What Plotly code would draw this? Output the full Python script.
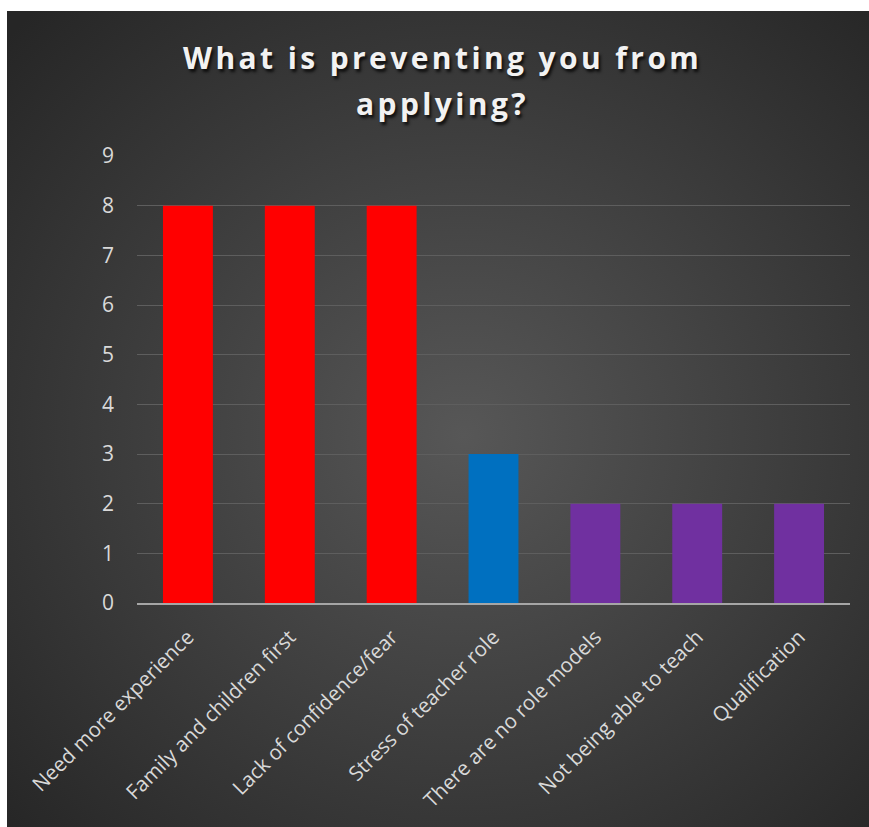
import plotly.graph_objects as go
import urllib.parse

categories = ["Need more experience", "Family and children first", "Lack of confidence/fear",
              "Stress of teacher role", "There are no role models", "Not being able to teach",
              "Qualification"]
values = [8, 8, 8, 3, 2, 2, 2]
bar_colors = ["#FF0000", "#FF0000", "#FF0000", "#0070C0", "#7030A0", "#7030A0", "#7030A0"]
y_ticks = [0, 1, 2, 3, 4, 5, 6, 7, 8, 9]
title_lines = ["What is preventing you from", "applying?"]

W, H = 869, 827
L, R, T, B = 137, 19, 156, 224
pw, ph = W - L - R, H - T - B

svg = ('<svg xmlns="http://www.w3.org/2000/svg" width="862" height="816" viewBox="0 0 862 816" preserveAspectRatio="none">'
       '<defs><radialGradient id="g" cx="0.53" cy="0.52" r="0.72">'
       '<stop offset="0" stop-color="#575757"/><stop offset="1" stop-color="#262626"/>'
       '</radialGradient></defs><rect width="862" height="816" fill="url(#g)"/></svg>')
src = "data:image/svg+xml;charset=utf-8," + urllib.parse.quote(svg)

fig = go.Figure(go.Bar(x=categories, y=values, marker=dict(color=bar_colors, line=dict(width=0)),
                       width=0.49))

fig.add_layout_image(dict(source=src, xref="paper", yref="paper",
                          x=(7 - L) / pw, y=(H - B - 11) / ph,
                          sizex=(W - 7) / pw, sizey=(H - 11) / ph,
                          xanchor="left", yanchor="top", sizing="stretch", layer="below"))

title_font = dict(family="Open Sans", size=30, color="#F2F2F2", weight="bold",
                  shadow="2px 3px 3px rgba(0,0,0,0.75)")
for txt, py in zip(title_lines, [57, 103]):
    fig.add_annotation(text='<span style="letter-spacing:3.4px">' + txt + '</span>',
                       xref="paper", yref="paper", x=(442 - L) / pw, y=(H - B - py) / ph,
                       xanchor="center", yanchor="middle", showarrow=False, font=title_font)

fig.update_layout(
    width=W, height=H,
    margin=dict(l=L, r=R, t=T, b=B, pad=0),
    paper_bgcolor="white", plot_bgcolor="rgba(0,0,0,0)",
    showlegend=False,
    font=dict(family="Open Sans", color="#D9D9D9"),
)
fig.update_xaxes(tickangle=-45, tickfont=dict(size=20.5, color="#D9D9D9"), showgrid=False,
                 showline=True, linecolor="#A6A6A6", linewidth=2, ticks="", fixedrange=True,
                 ticklabelstandoff=12)
fig.update_yaxes(range=[0, 9], tickvals=y_ticks, tickfont=dict(size=21, color="#D9D9D9"),
                 showgrid=True, gridcolor="#5E5E5E", gridwidth=1, zeroline=False, showline=False,
                 ticks="", ticklabelstandoff=22)

fig.write_html("out.html")
